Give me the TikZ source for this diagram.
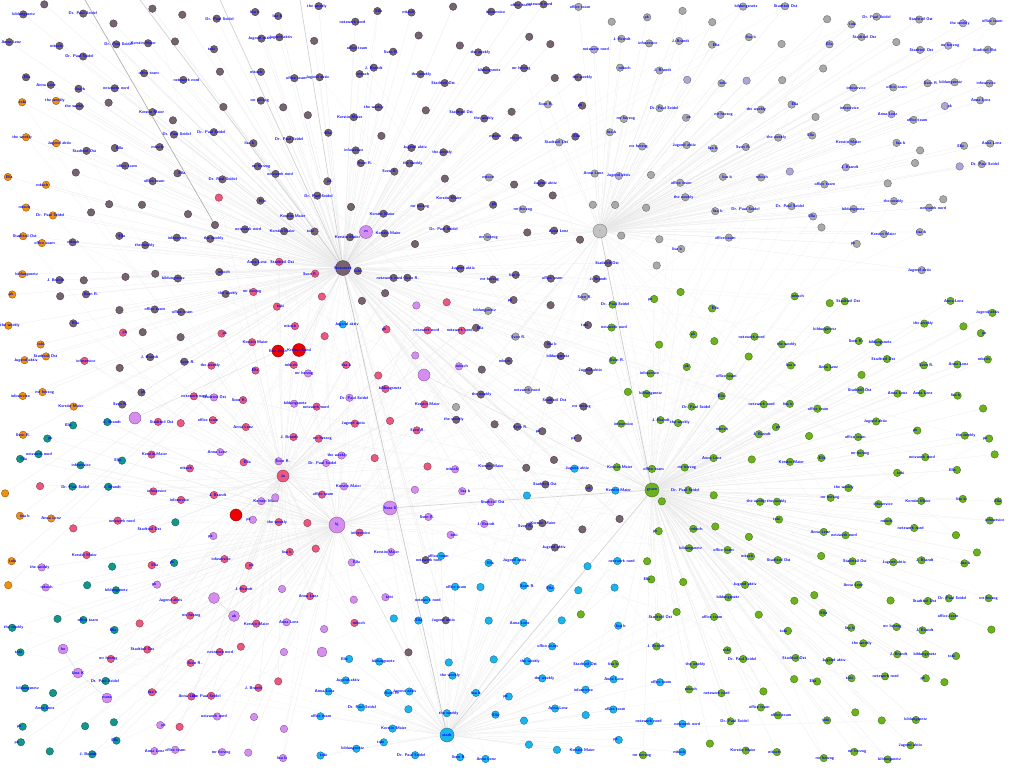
\documentclass[tikz,border=0pt]{standalone}
\usepackage{tikz}
\usetikzlibrary{backgrounds}

\definecolor{mau}{HTML}{756370}
\definecolor{lgr}{HTML}{A9A9A9}
\definecolor{lav}{HTML}{AFA5D6}
\definecolor{grn}{HTML}{6CB21C}
\definecolor{cya}{HTML}{1CB4EC}
\definecolor{pnk}{HTML}{E9587D}
\definecolor{vio}{HTML}{D58EF0}
\definecolor{tea}{HTML}{14968A}
\definecolor{ora}{HTML}{F0900C}
\definecolor{rdd}{HTML}{EE0000}

% which hub every colour group is tied to
\def\hubmau{mH}\def\hublgr{gH}\def\hublav{gH}\def\hubgrn{eH}
\def\hubcya{cH}\def\hubpnk{p1}\def\hubvio{v3}\def\hubtea{v3}\def\hubora{mH}
\def\nonestr{none}

% x/y/colour/second colour/share of second colour
\def\seeds{60/40/mau/mau/0, 200/40/mau/mau/0, 350/40/mau/mau/0, 480/50/mau/mau/0,
  120/150/mau/mau/0, 280/140/mau/mau/0, 430/140/mau/mau/0, 540/130/mau/lgr/0.2,
  90/270/mau/mau/0, 220/250/mau/pnk/0.08, 380/260/mau/mau/0, 520/300/mau/lgr/0.2,
  160/340/mau/pnk/0.15, 500/430/mau/lgr/0.35, 560/520/mau/cya/0.3,
  640/40/lgr/lav/0.15, 800/40/lgr/lav/0.2, 940/40/lgr/lav/0.2, 660/150/lgr/lav/0.15,
  800/150/lgr/lav/0.2, 930/150/lgr/lav/0.2, 700/230/lgr/lav/0.1, 880/230/lgr/lav/0.2,
  720/275/none/none/0, 860/275/none/none/0, 990/275/none/none/0,
  15/130/ora/ora/0, 15/260/ora/ora/0, 15/400/ora/ora/0, 15/540/ora/ora/0,
  270/320/pnk/cya/0.25, 200/420/pnk/vio/0.25, 320/420/pnk/vio/0.4, 420/340/pnk/vio/0.45,
  440/470/vio/pnk/0.4, 120/520/pnk/tea/0.35, 240/540/pnk/vio/0.3, 360/570/vio/pnk/0.35,
  180/640/pnk/vio/0.2, 290/640/vio/pnk/0.4, 240/740/vio/pnk/0.3,
  70/470/tea/pnk/0.3, 60/600/tea/vio/0.2, 60/730/tea/tea/0,
  440/610/cya/mau/0.15, 380/700/cya/cya/0, 520/690/cya/cya/0, 570/610/cya/grn/0.1,
  620/730/cya/grn/0.15,
  700/330/grn/grn/0, 850/330/grn/grn/0, 960/330/grn/grn/0, 680/430/grn/grn/0,
  830/430/grn/grn/0, 960/430/grn/grn/0, 700/560/grn/grn/0, 850/560/grn/grn/0,
  960/560/grn/grn/0, 730/680/grn/grn/0, 860/680/grn/grn/0, 1010/740/none/none/0}

% places already taken by the big nodes
\def\bigs{343/268, 600/231, 652/490, 447/735, 366/232, 424/375, 337/525, 390/508,
  135/418, 214/598, 234/616, 63/649, 78/673, 107/698, 322/652, 278/351, 299/350,
  236/515, 283/476, 215/225}

\pgfmathdeclarerandomlist{handles}{{mkoch}{Anna Lenz}{infoservice}{J. Brandt}%
  {netzwerk nord}{tobi}{Kerstin Maier}{the weekly}{lisa b}{Stadtteil Ost}{mr herzog}%
  {pk}{Jugend aktiv}{Sven R.}{bildungsnetz}{Ella}{office team}{Dr. Paul Seidel}}
\pgfmathdeclarerandomlist{hubs}{{mH}{gH}{eH}{cH}{v3}{p1}{mH}{eH}}

\begin{document}
\begin{tikzpicture}[x=1pt, y=-1pt,
    vert/.style={circle, draw=#1!60!black, fill=#1, inner sep=0pt, minimum size=7.5pt, line width=0.35pt},
    lbl/.style={text=blue, font=\fontsize{4}{4}\selectfont\sffamily\bfseries, inner sep=0pt},
    link/.style={draw=black!#1, line width=0.2pt},
    trunk/.style={draw=black!30, line width=0.7pt}]
  \useasboundingbox (0,0) rectangle (1024,768);

  % hubs and big nodes
  \node[vert=mau, minimum size=15pt, label={[lbl]center:Netzwerk}] (mH) at (343,268) {};
  \node[vert=lgr!70!white, minimum size=14pt, label={[lbl]center:.}] (gH) at (600,231) {};
  \node[vert=grn, minimum size=14pt, label={[lbl]center:gruen}] (eH) at (652,490) {};
  \node[vert=cya, minimum size=14pt, label={[lbl]center:stadt}] (cH) at (447,735) {};
  \node[vert=vio, minimum size=13pt, label={[lbl]center:m}] (v1) at (366,232) {};
  \node[vert=vio, minimum size=12pt] (v2) at (424,375) {};
  \node[vert=vio, minimum size=16pt, label={[lbl]center:kj}] (v3) at (337,525) {};
  \node[vert=vio, minimum size=14pt, label={[lbl]center:Nora S}] (v4) at (390,508) {};
  \node[vert=vio, minimum size=12pt] (v5) at (135,418) {};
  \node[vert=vio, minimum size=11pt] (v6) at (214,598) {};
  \node[vert=vio, minimum size=11pt, label={[lbl]center:ab}] (v7) at (234,616) {};
  \node[vert=vio, minimum size=10pt, label={[lbl]center:ho}] (v8) at (63,649) {};
  \node[vert=vio, minimum size=10pt, label={[lbl]center:Lina K}] (v9) at (78,673) {};
  \node[vert=vio, minimum size=10pt, label={[lbl]center:mara}] (v10) at (107,698) {};
  \node[vert=vio, minimum size=10pt] (v11) at (322,652) {};
  \node[vert=rdd, minimum size=12pt, label={[lbl]center:Ben Roth}] (r1) at (278,351) {};
  \node[vert=rdd, minimum size=13pt, label={[lbl]center:Kreisverband}] (r2) at (299,350) {};
  \node[vert=rdd, minimum size=12pt] (r3) at (236,515) {};
  \node[vert=pnk, minimum size=12pt, label={[lbl]center:Jo}] (p1) at (283,476) {};
  \node[vert=mau, minimum size=7.5pt] (m1) at (215,225) {};

  \coordinate (t1) at (85,0);
  \coordinate (t2) at (140,0);
  \coordinate (t3) at (220,0);
  \coordinate (t4) at (300,0);

  % the many small accounts
  \gdef\edgelist{mH/gH/12}
  \pgfmathsetseed{11}
  \foreach \i in {0,...,29}{
    \foreach \j in {0,...,23}{
      \pgfmathsetmacro\px{16+33.5*\i+11*rand}
      \pgfmathsetmacro\py{14+32*\j+11*rand}
      \gdef\bestd{1000}\gdef\near{0}
      \foreach \sx/\sy/\ca/\cb/\p in \seeds{
        \pgfmathsetmacro\d{((\px-\sx)*0.01)^2+((\py-\sy)*0.01)^2}
        \ifdim\d pt<\bestd pt\xdef\bestd{\d}\xdef\cola{\ca}\xdef\colb{\cb}\xdef\pb{\p}\fi
      }
      \foreach \hx/\hy in \bigs{
        \pgfmathsetmacro\d{((\px-\hx)*0.01)^2+((\py-\hy)*0.01)^2}
        \ifdim\d pt<0.02pt\gdef\near{1}\fi
      }
      \pgfmathsetmacro\r{rnd}
      \ifdim\r pt<\pb pt\edef\col{\colb}\else\edef\col{\cola}\fi
      \ifx\col\nonestr\else\ifnum\near=0
        \pgfmathrandomitem\nm{handles}
        \pgfmathsetmacro\sh{5*rand}
        \pgfmathsetmacro\r{rnd}
        \ifdim\r pt<0.75pt
          \node[vert=\col, label={[lbl, xshift=\sh]center:\nm}] (n-\i-\j) at (\px,\py) {};
        \else
          \node[vert=\col] (n-\i-\j) at (\px,\py) {};
        \fi
        \edef\hb{\csname hub\col\endcsname}
        \xdef\edgelist{\edgelist, n-\i-\j/\hb/9}
        \pgfmathrandomitem\ho{hubs}
        \pgfmathsetmacro\r{rnd}
        \ifdim\r pt<0.35pt \xdef\edgelist{\edgelist, n-\i-\j/\ho/5}\fi
      \fi\fi
    }
  }

  \begin{pgfonlayer}{background}
    \fill[white] (0,0) rectangle (1024,768);
    \foreach \a/\b/\k in \edgelist
      \draw[link=\k] (\a) -- (\b);
    \draw[trunk] (t1) -- (m1);
    \draw[trunk, black!18] (t2) -- (mH);
    \draw[trunk, black!18] (t3) -- (mH);
    \draw[trunk, black!18] (t4) -- (mH);
    \draw[trunk, black!22] (mH) -- (cH);
    \draw[trunk, black!20] (gH) -- (eH);
    \draw[trunk, black!16] (eH) -- (cH);
    \draw[trunk, black!16] (eH) -- (v4);
    \foreach \a/\b in {mH/v1, mH/r2, v3/v4, v3/p1, p1/r3, v2/eH, v3/cH, r1/v5, v6/v7, v8/v9, v9/v10}
      \draw[link=20] (\a) -- (\b);
  \end{pgfonlayer}
\end{tikzpicture}
\end{document}
